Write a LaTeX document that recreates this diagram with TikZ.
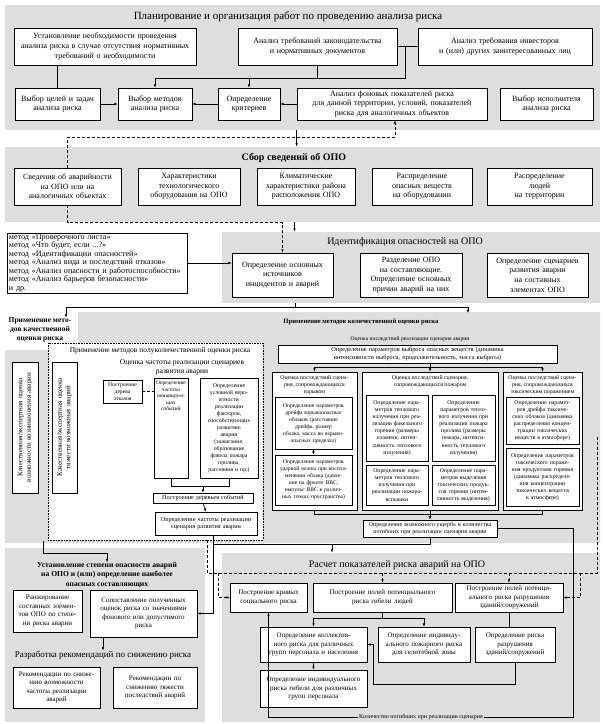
\documentclass[tikz,border=0pt]{standalone}
\usepackage{fontspec}
\setmainfont{Liberation Serif}
\usetikzlibrary{calc,arrows.meta}
\newcommand{\fsz}[2]{\fontsize{#1}{#2}\selectfont}
\tikzset{
panel/.style={fill=black!13,draw=none,inner sep=0pt},
cbox/.style={draw=black,fill=white,line width=0.6pt,align=center,inner xsep=2pt,inner ysep=1pt,font=\fsz{8}{9.6}},
qbox/.style={cbox,font=\fsz{7}{8.6}},
ibox/.style={cbox,line width=0.9pt,inner xsep=1.5pt,font=\fsz{5.8}{7.1}},
obox/.style={draw=black,fill=white,line width=0.6pt,inner sep=0pt},
otxt/.style={align=center,inner sep=0pt,font=\fsz{5.8}{7}},
headtxt/.style={align=center,inner sep=0pt,font=\fsz{10}{12}},
arrto/.style={-{Latex[length=3.4pt,width=2.6pt]}},
dline/.style={dash pattern=on 3pt off 2pt}
}

\begin{document}
\begin{tikzpicture}[x=1pt,y=-1pt,line width=0.6pt]
\useasboundingbox[fill=white] (0,0) rectangle (605,724);
% panels
\node[panel,minimum width=595pt,minimum height=125pt] (P1) at (302.5,67.5) {};
\node[panel,minimum width=595pt,minimum height=75pt] (P2) at (302.5,184.5) {};
\node[panel,minimum width=378pt,minimum height=71pt] (P3) at (411,267.5) {};
\fill[black!13] (5,350) -- (78,350) -- (78,312) -- (600,312) -- (600,543) -- (5,543) -- cycle;
\node[panel,minimum width=378pt,minimum height=169pt] (P5) at (411,637.5) {};
\node[panel,minimum width=200pt,minimum height=174pt] (P6) at (105,635) {};

% planning
\node[headtxt,font=\fsz{11}{13}] (T1) at (288,17) {Планирование и организация работ по проведению анализа риска};
\node[cbox,text width=178pt,minimum height=37pt] (A1) at (105,46.5) {Установление необходимости проведения\\анализа риска в случае отсутствия нормативных\\требований о необходимости};
\node[cbox,text width=155pt,minimum height=37pt] (A2) at (317.5,46.5) {Анализ требований законодательства\\и нормативных документов};
\node[cbox,text width=170pt,minimum height=37pt] (A3) at (505,46.5) {Анализ требования инвесторов\\и (или) других заинтересованных лиц};
\node[cbox,text width=81pt,minimum height=32pt] (B1) at (57.5,104) {Выбор целей и задач\\анализа риска};
\node[cbox,text width=70pt,minimum height=32pt] (B2) at (155,104) {Выбор методов\\анализа риска};
\node[cbox,text width=58pt,minimum height=32pt] (B3) at (249,104) {Определение\\критериев};
\node[cbox,text width=186pt,minimum height=32pt] (B4) at (392,104) {Анализ фоновых показателей риска\\для данной территории, условий, показателей\\риска для аналогичных объектов};
\node[cbox,text width=89pt,minimum height=32pt] (B5) at (546.5,104) {Выбор исполнителя\\анализа риска};

\draw (B1.north) -- (B1.north |- A1.south);
\draw[arrto] (B1.east) -- (B2.west);
\draw[arrto] (B3.west) -- (B2.east);
\draw[arrto] (B4.west) -- (B3.east);
\draw (A2.east) -- (A3.west);
\coordinate (j1) at (405,78);
\draw[arrto] (j1 |- A3.west) -- (j1) -| (B2.north);
\draw (A2.south) -- (A2.south |- j1);
\draw[arrto] (B3.north |- j1) -- (B3.north);

% data collection
\node[headtxt,font=\fsz{10}{12}\bfseries] (T2) at (294,158) {Сбор сведений об ОПО};
\node[cbox,text width=103pt,minimum height=37pt] (C1) at (67.5,186.5) {Сведения об аварийности\\на ОПО или на\\аналогичных объектах};
\node[cbox,text width=98pt,minimum height=37pt] (C2) at (189,186.5) {Характеристики\\технологического\\оборудования на ОПО};
\node[cbox,text width=94pt,minimum height=37pt] (C3) at (306,186.5) {Климатические\\характеристики района\\расположения ОПО};
\node[cbox,text width=96pt,minimum height=37pt] (C4) at (422,186.5) {Распределение\\опасных веществ\\на оборудовании};
\node[cbox,text width=101pt,minimum height=37pt] (C5) at (539.5,186.5) {Распределение\\людей\\на территории};

\coordinate (d1) at (395,137);
\draw[dline,arrto] (C1.north) |- (d1) -- (d1 |- B4.south);
\draw[arrto] (P1.south -| B4.west) -- (P2.north -| B4.west);

% identification
\node[headtxt] (T3) at (405,242) {Идентификация опасностей на ОПО};
\node[cbox,text width=97pt,minimum height=44pt] (D1) at (282.5,275) {Определение основных\\источников\\инцидентов и аварий};
\node[cbox,text width=98pt,minimum height=44pt] (D2) at (411,275) {Разделение ОПО\\на составляющие.\\Определение основных\\причин аварий на них};
\node[cbox,text width=97pt,minimum height=44pt] (D3) at (537.5,275) {Определение сценариев\\развития аварии\\на составных\\элементах ОПО};
\node[cbox,align=left,text width=176pt,minimum height=60pt,inner ysep=0.5pt,font=\fsz{8.1}{8.5}] (M) at (97,263) {метод «Проверочного листа»\\метод «Что будет, если ...?»\\метод «Идентификации опасностей»\\метод «Анализ вида и последствий отказов»\\метод «Анализ опасности и работоспособности»\\метод «Анализ барьеров безопасности»\\и др.};

\draw[dline,arrto] (C1.south) |- ($(D1.north)+(0,-30)$) -- (D1.north);
\draw[arrto] ($(P2.south -| D1.north)+(12,0)$) -- ($(P3.north -| D1.north)+(12,0)$);
\draw[arrto] (M.east) -- (M.east -| D1.west);

% qualitative
\node[headtxt,font=\fsz{7.5}{8.8}\bfseries] (Q0) at (40,330) {Применение мето-\\дов качественной\\оценки риска};
\node[qbox,rotate=90,text width=127pt,minimum height=26pt] (V1) at (25,427.5) {Качественная/экспертная оценка\\возможности возникновения аварии};
\node[draw,densely dotted,fill=white,minimum width=215pt,minimum height=197pt,inner sep=0pt] (SQ) at (155.5,441.5) {};
\node[qbox,rotate=90,text width=127pt,minimum height=25pt] (V2) at (64.5,427.5) {Качественная/экспертная оценка\\тяжести возможных аварий};

\coordinate (s3) at (295,307);
\coordinate (qa) at (468,313);
\draw (P3.south -| s3) -- (s3);
\draw[arrto] (s3) -| ($(Q0.north)+(26,0)$);
\draw[arrto] (s3) -| (qa);

% semi-quantitative
\node[headtxt,font=\fsz{7.5}{9}] (SQt) at (160,351) {Применение методов полуколичественной оценки риска};
\node[headtxt,font=\fsz{7.5}{9}] (SQf) at (182,367) {Оценка частоты реализации сценариев\\развития аварии};
\node[cbox,text width=35pt,minimum height=23pt,font=\fsz{5.6}{6.8}] (S1) at (122.5,391.5) {Построение\\дерева\\отказов};
\node[cbox,text width=30pt,minimum height=100pt] (S2) at (171,428) {};
\node[otxt,anchor=north,font=\fsz{5.3}{6.6}] (S2t) at ($(S2.north)+(0,3)$) {Определение\\частоты\\инициирую-\\щих\\событий};
\node[cbox,text width=54pt,minimum height=100pt,font=\fsz{5.8}{7}] (S3) at (229,428) {Определение\\условной веро-\\ятности\\реализации\\факторов,\\способствующих\\развитию\\аварии\\(зажигание,\\образование\\факела пожара\\пролива,\\рассеяния и пр.)};
\node[cbox,text width=96pt,minimum height=10pt,font=\fsz{6.2}{7.4}] (S4) at (203,498) {Построение деревьев событий};
\node[cbox,text width=98pt,minimum height=23pt,font=\fsz{6.2}{7.4}] (S5) at (206,523.5) {Определение частоты реализации\\сценария развития аварии};

\draw[dline] (S1.east) -- (S1.east -| S2.west);
\coordinate (sj) at ($(S4.north)+(0,-6)$);
\draw (S2.south) |- (S3.south |- sj) -- (S3.south);
\draw[arrto] (sj) -- (S4.north);
\draw[arrto] (S4.south) -- (S5.north);

% quantitative
\node[headtxt,font=\fsz{6.6}{8}\bfseries] (QT) at (361,322) {Применение методов количественной оценки риска};
\node[headtxt,font=\fsz{5.6}{7}] (QS) at (410,339) {Оценка последствий реализации сценария аварии};
\node[cbox,text width=275pt,minimum height=18pt,font=\fsz{6.3}{7.6}] (E0) at (417.5,354) {Определение параметров выброса опасных веществ (динамика\\интенсивности выброса, продолжительность, масса выброса)};

\node[obox,minimum width=85pt,minimum height=138pt] (X) at (314.5,441) {};
\node[otxt] (Xt) at (314.5,385) {Оценка последствий сцена-\\рия, сопровождающихся\\взрывом};
\node[ibox,text width=74pt,minimum height=52pt,font=\fsz{5.6}{7}] (X1) at (313.5,423.5) {Определение параметров\\дрейфа взрывоопасных\\облаков (расстояние\\дрейфа, размер\\облака, масса во взрыво-\\опасных пределах)};
\node[ibox,text width=74pt,minimum height=50pt,font=\fsz{5.6}{7}] (X2) at (313.5,480) {Определение параметров\\ударной волны при воспла-\\менении облака (давле-\\ние на фронте ВВС,\\импульс ВВС в различ-\\ных точках пространства)};
\draw[arrto] (X1.south) -- (X2.north);

\node[obox,minimum width=136pt,minimum height=138pt] (F) at (430,441) {};
\node[otxt] (Ft) at (430,382) {Оценка последствий сценария,\\сопровождающихся пожаром};
\node[ibox,text width=59pt,minimum height=66pt] (F1) at (397,428) {Определение пара-\\метров теплового\\излучения при реа-\\лизации факельного\\горения (размеры\\пламени, интен-\\сивность теплового\\излучения)};
\node[ibox,text width=60pt,minimum height=66pt] (F2) at (463.5,428) {Определение\\параметров тепло-\\вого излучения при\\реализации пожара\\пролива (размеры\\пожара, интенси-\\вность теплового\\излучения)};
\node[ibox,text width=59pt,minimum height=40pt] (F3) at (397,485) {Определение пара-\\метров теплового\\излучения при\\реализации пожара-\\вспышки};
\node[ibox,text width=60pt,minimum height=40pt] (F4) at (463.5,485) {Определение пара-\\метров выделения\\токсических продук-\\тов горения (интен-\\сивность выделения)};

\node[obox,minimum width=79pt,minimum height=138pt] (T) at (542.5,441) {};
\node[otxt] (Tt) at (542.5,385) {Оценка последствий сцена-\\рия, сопровождающихся\\токсическим поражением};
\node[ibox,text width=70pt,minimum height=47pt] (T1) at (542.5,420.5) {Определение парамет-\\ров дрейфа токсиче-\\ских облаков (динамика\\распределения концен-\\трации токсических\\веществ в атмосфере)};
\node[ibox,text width=70pt,minimum height=58pt] (T2) at (542.5,477) {Определение параметров\\токсического пораже-\\ния продуктами горения\\(динамика распределе-\\ния концентрации\\токсических веществ\\в атмосфере)};

\coordinate (jq) at ($(E0.south -| F.north)!0.5!(F.north)$);
\draw[arrto] (E0.south -| F.north) -- (F.north);
\draw[arrto] (jq) -| (X.north);
\draw[arrto] (jq) -| (T.north);

\node[cbox,text width=130pt,minimum height=17pt,font=\fsz{6}{7.2}] (G) at (430,528.5) {Определение возможного ущерба и количества\\погибших при реализации сценария аварии};
\coordinate (jb) at ($(F.south)+(0,4)$);
\draw (X.south) |- (jb) -| (T.south);
\draw[arrto] (F.south) -- (G.north);

% risk calculation
\node[headtxt] (T5) at (397,565) {Расчет показателей риска аварий на ОПО};
\node[qbox,text width=73pt,minimum height=29pt] (Q1) at (268.5,597.5) {Построение кривых\\социального риска};
\node[qbox,text width=135pt,minimum height=29pt] (Q2) at (382.5,597.5) {Построение полей потенциального\\риска гибели людей};
\node[qbox,text width=104pt,minimum height=29pt] (Q3) at (509,597.5) {Построение полей потенци-\\ального риска разрушения\\зданий/сооружений};
\node[qbox,text width=103pt,minimum height=35pt] (Q4) at (313.5,644.5) {Определение коллектив-\\ного риска для различных\\групп персонала и населения};
\node[qbox,text width=88pt,minimum height=35pt] (Q5) at (424,644.5) {Определение индивиду-\\ального пожарного риска\\для селитебной зоны};
\node[qbox,text width=76pt,minimum height=35pt] (Q6) at (515,644.5) {Определение риска\\разрушения\\зданий/сооружений};
\node[qbox,text width=103pt,minimum height=37pt] (Q7) at (313.5,688.5) {Определение индивидуального\\риска гибели для различных\\групп персонала};

\coordinate (j2) at ($(Q2.south)+(0,6)$);
\draw (Q2.south) -- (j2);
\draw[arrto] (j2) -| (Q4.north);
\draw[arrto] (j2) -| (Q5.north);
\draw (Q3.south) -- (Q3.south |- Q6.north);
\draw[arrto] (Q4.south) -- (Q7.north);
\coordinate (q6b) at ($(Q4.east)+(6,40)$);
\draw[arrto] (Q6.south) |- (q6b) |- (Q4.east);

% bottom left
\node[headtxt,font=\fsz{7.6}{9.2}\bfseries] (L1) at (107,575) {Установление степени опасности аварий\\на ОПО и (или) определение наиболее\\опасных составляющих};
\node[qbox,text width=65pt,minimum height=42pt] (R1) at (47.5,611) {Ранжирование\\составных элемен-\\тов ОПО по степе-\\ни риска аварии};
\node[qbox,text width=103pt,minimum height=47pt] (R2) at (143.5,613.5) {Сопоставление полученных\\оценок риска со значениями\\фонового или допустимого\\риска};
\node[headtxt,font=\fsz{9}{11}] (L2) at (103,655) {Разработка рекомендаций по снижению риска};
\node[qbox,text width=83pt,minimum height=41pt] (K1) at (56.5,687.5) {Рекомендации по сниже-\\нию возможности\\частоты реализации\\аварий};
\node[qbox,text width=80pt,minimum height=41pt] (K2) at (155,687.5) {Рекомендации по\\снижению тяжести\\последствий аварий};
\draw[arrto] (R2.south west -| L2.north) -- (L2.north);

% links between blocks
\coordinate (ql) at (43,541);
\draw[arrto] (ql) -- ++(0,12) -| (L1.north);
\coordinate (jg) at ($(G.south)+(0,7)$);
\coordinate (sv) at ($(S5.south)+(7,0)$);
\draw (G.south) |- (sv |- jg);
\draw[arrto] (sv) |- (R2.east);
\coordinate (jr) at ($(jg)+(-98,0)$);
\draw[arrto] (jr) -- (jr |- P5.north);

\coordinate (dq) at (207,540);
\coordinate (dc) at (580,573);
\draw[dline] (dq) |- (dc);
\draw[dline,arrto] (dc) |- (Q3.east);
\draw[dline,arrto] (Q2.north |- dc) -- (Q2.north);
\draw[dline,arrto] (Q3.north |- dc) -- (Q3.north);
\draw[dline,arrto] ($(dq |- dc)+(11,0)$) |- (Q1.west);
\coordinate (rd) at (597,437);
\draw[dline] (rd) |- (dc);

\coordinate (kc) at (573,717);
\draw[arrto] (G.east) -| (kc) -| (Q1.south);
\node[fill=black!13,inner sep=1pt,font=\fsz{6}{7}] (KL) at (421,717) {Количество погибших при реализации сценария};
\end{tikzpicture}
\end{document}
